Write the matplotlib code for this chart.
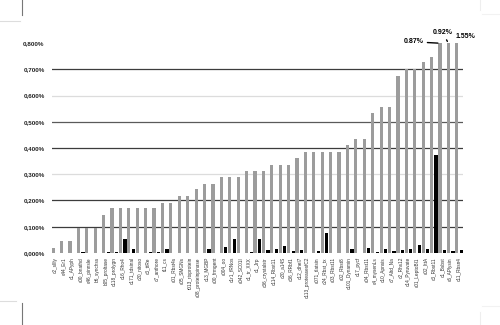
import matplotlib
matplotlib.use("Agg")
import matplotlib.pyplot as plt
from matplotlib.lines import Line2D
import numpy as np

plt.rcParams['font.family'] = ['Liberation Sans', 'DejaVu Sans']

# Category names (one per column pair)
categories = [
    "c2_sIlly", "c44_Er1", "c1_APyph", "c00_bnathd", "c46_pinnsle",
    "b6_synchss", "b05_proltase", "c118_prolygn", "c16_Rho4", "c171_tdsinal",
    "c20_nitoso", "c3_ttRe", "c7_anthore", "t11_cs", "c01_Rbst4s",
    "c05_SMGNs", "t013_rtxprotein", "c08_proteinpinase", "c13_MGBP", "c00_frmgent",
    "c004_oo", "c1r1_fRNos", "c042_SC01I", "c1_tr_XXX", "c1_Jrp",
    "c36_crystalstr", "c114_Rbst11", "c20_a14S", "c36_RRbf1", "c12_dhel7",
    "c113_proteasesfC2", "c071_tlatsin", "c24_Rbst_tx", "c03_Rbst11", "c02_Rbst8",
    "c101_Dynamin", "c17_pycf", "c04_Rbst11", "c4_mysenLs", "c10_Apnsis",
    "c7_Altd_Na", "c2_Rhs12", "c14_Pyruvate", "c01_LeptoBl1", "c02_lttA",
    "c3_Rbst11", "c1_Bsbst", "c6_APlysin", "c11_Rbsn4",
]

# First series (grey columns), in percent
series_grey = [
    0.020, 0.046, 0.046, 0.096, 0.096, 0.096, 0.143, 0.170, 0.170, 0.170,
    0.170, 0.170, 0.170, 0.191, 0.191, 0.216, 0.216, 0.242, 0.263, 0.263,
    0.289, 0.289, 0.289, 0.314, 0.314, 0.314, 0.337, 0.337, 0.337, 0.362,
    0.386, 0.386, 0.386, 0.386, 0.386, 0.411, 0.434, 0.434, 0.532, 0.557,
    0.557, 0.676, 0.701, 0.701, 0.727, 0.748, 0.87, 0.92, 1.55,
]

# Second series (black columns), in percent
series_black = [
    0.000, 0.000, 0.000, 0.002, 0.000, 0.000, 0.002, 0.002, 0.051, 0.016,
    0.000, 0.003, 0.002, 0.013, 0.000, 0.000, 0.000, 0.000, 0.013, 0.000,
    0.021, 0.051, 0.000, 0.003, 0.051, 0.010, 0.016, 0.025, 0.006, 0.010,
    0.000, 0.008, 0.075, 0.001, 0.000, 0.014, 0.000, 0.018, 0.003, 0.013,
    0.008, 0.010, 0.014, 0.029, 0.016, 0.373, 0.010, 0.008, 0.010,
]

# Values above the axis limit get a callout label
callouts = ["0.87%", "0.92%", "1.55%"]
callout_offsets = [(-18.7, 1.0), (-4.0, 7.4), (6.0, 5.0)]   # points
callout_leader = [True, True, False]

y_ticks = [0.0, 0.1, 0.2, 0.3, 0.4, 0.5, 0.6, 0.7, 0.8]
y_tick_labels = ["0,000%", "0,100%", "0,200%", "0,300%", "0,400%",
                 "0,500%", "0,600%", "0,700%", "0,800%"]

fig = plt.figure(figsize=(5.0, 3.25), dpi=100)
ax = fig.add_axes([0.103, 0.222, 0.823, 0.645])

x = np.arange(len(categories))
off = 0.27
width = 0.38
ax.bar(x - off, series_grey, width=width, color="#9c9c9c", zorder=2)
ax.bar(x + off, series_black, width=width, color="#000000", zorder=3)

ax.set_xlim(-0.47, len(categories) - 0.53)
ax.set_ylim(0, 0.8)

ax.set_yticks(y_ticks)
ax.set_yticklabels(y_tick_labels, fontsize=4.5, fontweight="bold", color="#222222")
ax.set_xticks(x)
ax.set_xticklabels(categories, rotation=90, fontsize=3.4, color="#333333")
ax.tick_params(axis="both", length=0)
ax.tick_params(axis="y", pad=5)
ax.tick_params(axis="x", pad=3)

for s in ax.spines.values():
    s.set_visible(False)

# Horizontal gridlines behind the columns
grid_colors = {0.1: "#3c3c3c", 0.2: "#3c3c3c", 0.3: "#dcdcdc", 0.4: "#3c3c3c",
               0.5: "#5a5a5a", 0.6: "#dcdcdc", 0.7: "#3c3c3c"}
for yv, col in grid_colors.items():
    ax.axhline(yv, color=col, lw=0.9, zorder=1)

# Callouts for the columns cut off at the top of the axis
over = [i for i, v in enumerate(series_grey) if v > 0.8]
for idx, lab, (dx, dy), lead in zip(over, callouts, callout_offsets, callout_leader):
    kw = {}
    if lead:
        kw["arrowprops"] = dict(arrowstyle="-", lw=1.0, color="black",
                                shrinkA=0.5, shrinkB=1.5)
    ax.annotate(lab, xy=(x[idx] - off, 0.8), xytext=(dx, dy),
                textcoords="offset points", ha="center", va="center",
                fontsize=5, fontweight="bold", annotation_clip=False,
                zorder=5, **kw)

# Crop marks around the page
def fig_line(x0, y0, x1, y1, color, lw=0.8):
    W, H = 500.0, 325.0
    fig.add_artist(Line2D([x0 / W, x1 / W], [1 - y0 / H, 1 - y1 / H],
                          color=color, lw=lw, transform=fig.transFigure))

fig_line(22, 0, 22, 15, "#777777")
fig_line(0, 21, 20, 21, "#dddddd")
fig_line(22, 303, 22, 325, "#777777")
fig_line(0, 301, 16, 301, "#dddddd")
fig_line(480, 0, 480, 10, "#eeeeee")
fig_line(482, 14, 500, 14, "#f2f2f2")
fig_line(480, 312, 480, 325, "#eeeeee")
fig_line(482, 306, 500, 306, "#f2f2f2")

fig.savefig("out.png", dpi=100)
